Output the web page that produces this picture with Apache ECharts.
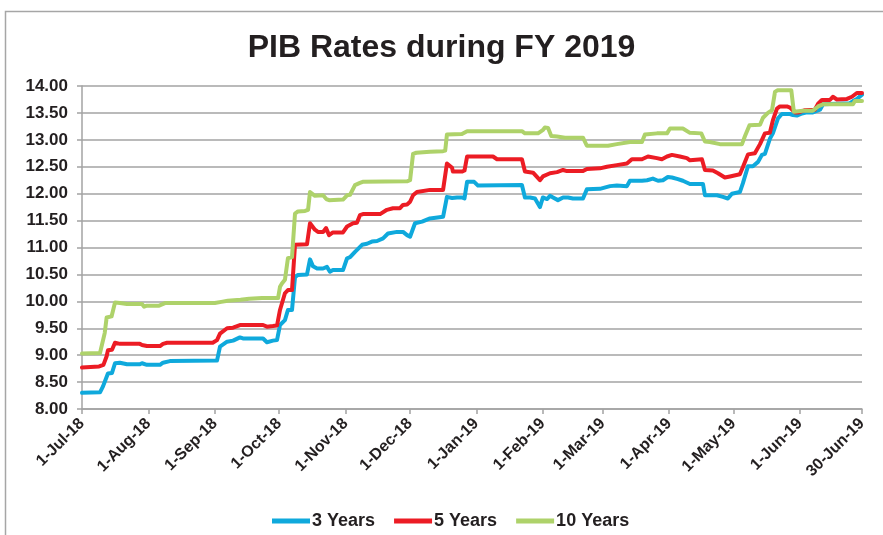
<!DOCTYPE html>
<html>
<head>
<meta charset="utf-8">
<script src="https://cdn.jsdelivr.net/npm/echarts@6/dist/echarts.min.js"></script>
<style>
html,body{margin:0;padding:0;background:#fff;}
#chart{width:883px;height:535px;}
</style>
</head>
<body>
<div id="chart"></div>
<script>
// x = days since 1-Jul-2018
const tickDays = [0, 31, 62, 92, 123, 153, 184, 215, 243, 274, 304, 335, 364];
const tickLabels = ['1-Jul-18','1-Aug-18','1-Sep-18','1-Oct-18','1-Nov-18','1-Dec-18','1-Jan-19','1-Feb-19','1-Mar-19','1-Apr-19','1-May-19','1-Jun-19','30-Jun-19'];
const seriesNames = ['3 Years', '5 Years', '10 Years'];

const y3 = [[0,8.30],[8.4,8.31],[9.8,8.42],[12.1,8.66],[14,8.67],[15.4,8.85],[17.7,8.86],[21,8.83],[27,8.83],[28,8.85],[30.3,8.82],[36.4,8.82],[37.8,8.86],[41,8.89],[63,8.90],[64.4,9.16],[67.7,9.25],[70.5,9.27],[73.7,9.33],[75.1,9.31],[84.5,9.31],[86.3,9.24],[89.1,9.27],[91,9.28],[92.4,9.56],[94.7,9.65],[96.1,9.84],[98,9.84],[99.4,10.45],[100.8,10.49],[105,10.50],[106.4,10.78],[107.8,10.65],[109.7,10.61],[112.5,10.61],[114.3,10.64],[115.7,10.55],[117.1,10.58],[121.8,10.58],[123.7,10.80],[125.1,10.82],[127.4,10.92],[130.7,11.05],[133,11.07],[135.3,11.11],[137.7,11.12],[140.5,11.17],[142.8,11.26],[147,11.29],[149.8,11.29],[151.7,11.23],[153.1,11.20],[155.4,11.45],[158.7,11.48],[162.4,11.54],[168.5,11.57],[170.3,11.94],[172.7,11.92],[175,11.93],[177.3,11.93],[178.5,11.91],[179.7,12.22],[183,12.22],[184.8,12.15],[205.3,12.16],[206.7,11.93],[209.1,11.93],[211.4,11.91],[213.7,11.75],[215.1,11.93],[217,11.90],[218.4,11.96],[219.8,11.93],[222.1,11.88],[224.5,11.93],[226.8,11.93],[229.1,11.91],[233.8,11.91],[235.6,12.08],[241.7,12.09],[246.4,12.14],[249.6,12.15],[254.3,12.14],[255.7,12.24],[261.3,12.24],[263.7,12.25],[266.4,12.28],[268.8,12.24],[271.1,12.25],[273.4,12.31],[275.3,12.30],[278.1,12.27],[280.4,12.24],[283.7,12.18],[289.8,12.18],[290.7,11.97],[296.3,11.97],[299.1,11.94],[301.4,11.91],[303.3,12.00],[307,12.03],[308.4,12.19],[310.8,12.51],[313.1,12.51],[315.5,12.59],[317.3,12.72],[318.7,12.74],[321,13.02],[322.4,13.12],[324.8,13.40],[326.6,13.48],[330.4,13.48],[331.8,13.46],[333.6,13.45],[336,13.49],[338.3,13.51],[341.1,13.51],[344.4,13.56],[345.8,13.66],[358.4,13.68],[359.8,13.72],[361.6,13.76],[364,13.84]];

const y5 = [[0,8.77],[8,8.79],[10,8.82],[11.5,8.98],[12.1,9.09],[14,9.10],[15.4,9.23],[17.7,9.21],[27,9.21],[28,9.19],[30.3,9.17],[36.4,9.17],[37.8,9.21],[39.7,9.23],[61,9.23],[63,9.28],[64.4,9.40],[67.7,9.50],[70.5,9.51],[73.7,9.56],[84.5,9.56],[86.3,9.53],[89.1,9.54],[91,9.55],[91.9,9.56],[92.4,9.84],[93.3,9.87],[94.7,10.15],[96.1,10.21],[98,10.21],[99.4,11.05],[105,11.06],[106.4,11.45],[107.3,11.47],[108.7,11.33],[110.1,11.29],[112.5,11.29],[113.9,11.36],[115.3,11.23],[117.1,11.28],[121.8,11.28],[123.7,11.39],[126.5,11.45],[128.3,11.46],[129.7,11.60],[131.1,11.62],[139.1,11.62],[142.3,11.70],[145.1,11.73],[148.4,11.73],[149.8,11.79],[151.7,11.80],[153.1,11.85],[154.5,11.97],[156.3,12.03],[162.4,12.07],[168.5,12.07],[170.3,12.56],[172.7,12.48],[173.1,12.41],[177.3,12.41],[178.5,12.43],[179.7,12.69],[191.8,12.69],[193.7,12.64],[205.3,12.64],[206.7,12.41],[210.5,12.39],[213.7,12.25],[215.1,12.32],[218.4,12.38],[221.7,12.40],[224.5,12.44],[226.3,12.42],[233.8,12.42],[235.6,12.46],[241.7,12.47],[245,12.50],[249.6,12.53],[254.3,12.56],[256.6,12.64],[261.3,12.64],[264.1,12.69],[268.3,12.66],[270.6,12.64],[273,12.69],[275.3,12.72],[279,12.69],[282.3,12.66],[283.7,12.62],[289.3,12.64],[290.7,12.44],[294.4,12.43],[296.8,12.38],[300,12.30],[302.4,12.32],[307,12.36],[308.4,12.49],[310.8,12.73],[314,12.75],[316.4,12.92],[318.7,13.12],[321,13.13],[322.4,13.36],[324.3,13.58],[325.7,13.62],[329,13.62],[330.4,13.60],[332.7,13.51],[334.5,13.51],[337.4,13.55],[342,13.56],[343.5,13.67],[345.3,13.74],[349,13.74],[350.4,13.80],[352.3,13.75],[357,13.76],[359.3,13.80],[361.6,13.87],[364,13.87]];

const y10 = [[0,9.03],[8.4,9.04],[10.6,9.41],[11.5,9.70],[13.8,9.72],[15.4,9.98],[17.7,9.97],[21,9.95],[28,9.95],[29,9.90],[30.3,9.92],[36,9.92],[39,9.97],[62,9.97],[65,9.99],[68,10.01],[74,10.03],[78,10.05],[84,10.06],[91.5,10.06],[92.4,10.27],[93.3,10.33],[94.7,10.40],[96.1,10.80],[98,10.82],[99.4,11.63],[100.8,11.67],[104.1,11.68],[105.5,11.70],[106.4,12.03],[107.3,12.04],[108.7,11.96],[112.5,11.97],[114,11.90],[115.3,11.88],[121.8,11.89],[123.7,11.97],[125.1,11.98],[127.4,12.16],[129.7,12.20],[131,12.22],[151.7,12.23],[153.1,12.25],[154.5,12.74],[156,12.76],[162.4,12.78],[168.5,12.79],[169.5,12.80],[170.3,13.10],[177.3,13.11],[179.7,13.16],[205.3,13.16],[206.7,13.12],[212.8,13.12],[215,13.18],[216,13.23],[217.5,13.22],[219,13.07],[221.7,13.06],[225.4,13.04],[233.8,13.04],[235.6,12.89],[245.5,12.89],[249.6,12.92],[255.7,12.96],[261.3,12.96],[262.7,13.10],[268.3,13.12],[273,13.12],[274.4,13.21],[280.4,13.21],[283.7,13.13],[289,13.12],[290.7,12.97],[293,12.96],[297.7,12.92],[308,12.92],[309.4,13.07],[311.5,13.27],[316.4,13.28],[317.8,13.41],[320.1,13.50],[322,13.55],[323.4,13.89],[324.5,13.92],[331,13.92],[332.2,13.52],[336.4,13.54],[341,13.54],[343.5,13.62],[345.8,13.66],[359.8,13.66],[360.7,13.72],[364,13.72]];

const colors = ['#0fa9dc', '#ec1c24', '#aed26a'];
const textColor = '#231f20';
const gridColor = '#a3a3a3';
const font = "'Liberation Sans', Arial, sans-serif";

const chart = echarts.init(document.getElementById('chart'), null, {renderer: 'canvas'});
chart.setOption({
  animation: false,
  backgroundColor: '#ffffff',
  graphic: [{
    type: 'rect', silent: true, z: -1,
    shape: {x: 5.5, y: 11.5, width: 1000, height: 1000},
    style: {fill: 'none', stroke: '#a6a6a6', lineWidth: 1.5}
  }],
  title: {
    text: 'PIB Rates during FY 2019',
    left: 'center', top: 27,
    textStyle: {fontFamily: font, fontSize: 32, fontWeight: 'bold', color: textColor}
  },
  legend: {
    data: seriesNames,
    left: 267, top: 507,
    icon: 'rect', itemWidth: 38, itemHeight: 5, itemGap: 19,
    textStyle: {fontFamily: font, fontSize: 18, fontWeight: 'bold', color: textColor, padding: [0,0,0,-3]}
  },
  grid: {left: 82, right: 21, top: 86, bottom: 126, containLabel: false},
  xAxis: {
    type: 'value', min: 0, max: 364,
    splitLine: {show: false},
    axisLine: {show: true, lineStyle: {color: gridColor, width: 1.5}},
    axisTick: {show: true, length: 5, customValues: tickDays, lineStyle: {color: gridColor, width: 1.5}},
    axisLabel: {
      customValues: tickDays,
      rotate: 45, margin: 12,
      fontFamily: font, fontSize: 16, fontWeight: 'bold', color: textColor,
      formatter: function (v) { const i = tickDays.indexOf(Math.round(v)); return i >= 0 ? tickLabels[i] : ''; }
    }
  },
  yAxis: {
    type: 'value', min: 8, max: 14, interval: 0.5,
    axisLine: {show: true, lineStyle: {color: gridColor, width: 1.5}},
    axisTick: {show: true, length: 5, lineStyle: {color: gridColor, width: 1.5}},
    splitLine: {show: true, lineStyle: {color: gridColor, width: 1.5}},
    axisLabel: {
      margin: 14,
      fontFamily: font, fontSize: 17, fontWeight: 'bold', color: textColor,
      formatter: function (v) { return v.toFixed(2); }
    }
  },
  series: [
    {name: seriesNames[0], type: 'line', data: y3, showSymbol: false, symbol: 'none', color: colors[0], lineStyle: {width: 4, color: colors[0], join: 'round', cap: 'round'}},
    {name: seriesNames[1], type: 'line', data: y5, showSymbol: false, symbol: 'none', color: colors[1], lineStyle: {width: 4, color: colors[1], join: 'round', cap: 'round'}},
    {name: seriesNames[2], type: 'line', data: y10, showSymbol: false, symbol: 'none', color: colors[2], lineStyle: {width: 4, color: colors[2], join: 'round', cap: 'round'}}
  ]
});
</script>
</body>
</html>
